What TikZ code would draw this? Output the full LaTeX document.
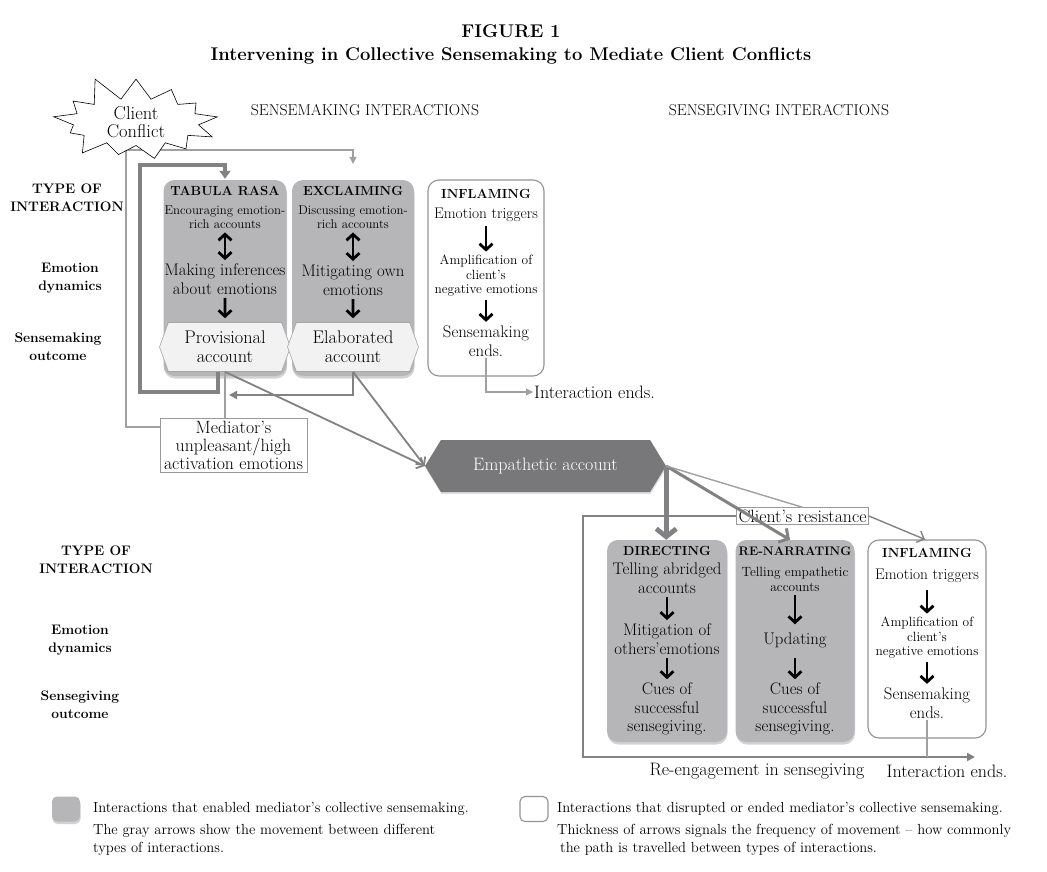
\documentclass[tikz,border=0pt]{standalone}
\usepackage{amsmath,amssymb}
\usepackage{tikz}
\usetikzlibrary{shapes,arrows.meta,positioning,calc,shadows}
\usepackage{xcolor}

\definecolor{boxgray}{RGB}{182,182,184}
\definecolor{hexfill}{RGB}{241,242,241}
\definecolor{empgray}{RGB}{120,120,123}
\definecolor{linegray}{RGB}{130,130,132}
\definecolor{lightline}{RGB}{160,160,160}

\begin{document}
\begin{tikzpicture}[
    x=1pt, y=-1pt,
    every node/.style={inner sep=1pt},
    enabling/.style={rectangle, rounded corners=11pt, fill=boxgray, drop shadow={shadow xshift=0.5pt, shadow yshift=-2.5pt, opacity=0.35}},
    disrupting/.style={rectangle, rounded corners=11pt, fill=white, draw=gray!85, line width=1.1pt},
    outcome/.style={signal, signal to=east and west, signal pointer angle=140, fill=hexfill, draw=gray!70, line width=0.6pt, minimum width=131pt, minimum height=49pt, align=center, font=\fontsize{18.3}{19}\selectfont},
    empathy/.style={signal, signal to=east and west, signal pointer angle=117, fill=empgray, text=white, minimum width=241pt, minimum height=52pt, font=\fontsize{18}{19}\selectfont, drop shadow={shadow xshift=0.5pt, shadow yshift=-2pt, opacity=0.25}},
    notebox/.style={rectangle, draw=gray!80, fill=white, line width=0.8pt, align=center, inner sep=2pt, font=\fontsize{17.8}{18}\selectfont},
    burst/.style={starburst, starburst points=13, starburst point height=26pt, random starburst=11, draw=black, fill=white, line width=0.6pt, minimum width=178pt, minimum height=74pt, align=center, font=\fontsize{18.5}{18}\selectfont},
    rowlabel/.style={align=center, font=\bfseries\fontsize{13.8}{18}\selectfont},
    heading/.style={font=\fontsize{15.7}{17}\selectfont},
    boxtitle/.style={font=\bfseries\fontsize{13.2}{15}\selectfont},
    txt/.style={align=center, font=\fontsize{16.8}{18.5}\selectfont},
    trig/.style={align=center, font=\fontsize{15.4}{17}\selectfont},
    smalltxt/.style={align=center, font=\fontsize{13.4}{14.5}\selectfont},
    endtxt/.style={font=\fontsize{18}{19}\selectfont},
    legendtxt/.style={align=left, font=\fontsize{14.6}{18}\selectfont},
    inarrow/.style={line width=2.8pt, shorten <=2.5pt, shorten >=2.5pt, -{Straight Barb[length=6pt,width=13pt]}},
    twoway/.style={line width=2.8pt, shorten <=2.5pt, shorten >=2.5pt, {Straight Barb[length=6pt,width=13pt]}-{Straight Barb[length=6pt,width=13pt]}},
    faint/.style={draw=lightline, line width=1.1pt},
    faintarrow/.style={faint, -{Triangle[length=7pt,width=7pt]}},
    path1/.style={draw=linegray, line width=1.8pt, -{Straight Barb[length=6pt,width=12pt]}},
    path3/.style={draw=linegray, line width=3pt, -{Straight Barb[length=7pt,width=16pt]}},
    path5/.style={draw=linegray, line width=4.8pt, -{Straight Barb[length=8pt,width=20pt]}},
    loopline/.style={draw=linegray, line width=4.5pt, -{Triangle[length=8pt,width=11pt]}}
]
\fill[white] (0,0) rectangle (1047,871);
\useasboundingbox (0,0) rectangle (1047,871);

\node[font=\bfseries\fontsize{18.4}{23}\selectfont, align=center] (fig) at (511,44) {FIGURE 1\\Intervening in Collective Sensemaking to Mediate Client Conflicts};

\node[heading] (smhead) at (365,110) {SENSEMAKING INTERACTIONS};
\node[heading] (sghead) at (779,110) {SENSEGIVING INTERACTIONS};

\node[rowlabel] (type1) at (67,198) {TYPE OF\\INTERACTION};
\node[rowlabel] (emo1) at (70,278) {Emotion\\dynamics};
\node[rowlabel] (out1) at (58,347) {Sensemaking\\outcome};
\node[rowlabel] (type2) at (96,560) {TYPE OF\\INTERACTION};
\node[rowlabel] (emo2) at (80,640) {Emotion\\dynamics};
\node[rowlabel] (out2) at (80,705) {Sensegiving\\outcome};

\node[enabling, minimum width=123pt, minimum height=196pt] (tabula) at (225,278) {};
\node[enabling, minimum width=122pt, minimum height=196pt] (excl) at (353,278) {};
\node[disrupting, minimum width=116pt, minimum height=196pt] (infl) at (486,278) {};

\node[boxtitle] (tabt) at (225,191) {TABULA RASA};
\node[smalltxt, font=\fontsize{12.8}{14.5}\selectfont] (tab1) at (225,217) {Encouraging emotion-\\rich accounts};
\node[txt] (tab2) at (225,279) {Making inferences\\about emotions};
\node[outcome] (prov) at (225,347) {Provisional\\account};
\draw[twoway] (tab1) -- (tab2);
\draw[inarrow, shorten >=4pt] (tab2) -- (prov);

\node[boxtitle] (exct) at (353,191) {EXCLAIMING};
\node[smalltxt, font=\fontsize{12.8}{14.5}\selectfont] (exc1) at (353,217) {Discussing emotion-\\rich accounts};
\node[txt, font=\fontsize{16.8}{19}\selectfont] (exc2) at (353,280) {Mitigating own\\emotions};
\node[outcome] (elab) at (353,347) {Elaborated\\account};
\draw[twoway] (exc1) -- (exc2);
\draw[inarrow, shorten >=4pt] (exc2) -- (elab);

\node[boxtitle] (inft) at (486,194) {INFLAMING};
\node[trig] (inf1) at (486,215) {Emotion triggers};
\node[smalltxt] (inf2) at (486,276) {Amplification of\\client's\\negative emotions};
\node[txt, font=\fontsize{16.8}{19}\selectfont] (inf3) at (486,341) {Sensemaking\\ends.};
\draw[inarrow] (inf1) -- (inf2);
\draw[inarrow] (inf2) -- (inf3);

\node[endtxt, anchor=west] (iend1) at (533,392) {Interaction ends.};

\node[notebox, minimum width=147pt, minimum height=54pt] (mediator) at (233.5,445) {Mediator's\\unpleasant/high\\activation emotions};
\node[empathy] (emp) at (545.5,466) {Empathetic account};
\node[notebox] (resist) at (802.5,516) {Client's resistance};

\node[enabling, minimum width=120pt, minimum height=202pt] (direct) at (667,641) {};
\node[enabling, minimum width=119pt, minimum height=202pt] (renarr) at (795,641) {};
\node[disrupting, minimum width=118pt, minimum height=198pt] (inflb) at (927,639) {};

\node[boxtitle] (dirt) at (667,551) {DIRECTING};
\node[txt] (dir1) at (667,578) {Telling abridged\\accounts};
\node[txt] (dir2) at (667,639) {Mitigation of\\others'emotions};
\node[txt] (dir3) at (667,709) {Cues of\\successful\\sensegiving.};
\draw[inarrow] (dir1) -- (dir2);
\draw[inarrow] (dir2) -- (dir3);

\node[boxtitle, font=\bfseries\fontsize{12.4}{15}\selectfont] (rent) at (795,551) {RE-NARRATING};
\node[smalltxt] (ren1) at (795,579.5) {Telling empathetic\\accounts};
\node[txt] (ren2) at (795,640) {Updating};
\node[txt] (ren3) at (795,709) {Cues of\\successful\\sensegiving.};
\draw[inarrow, shorten >=7pt] (ren1) -- (ren2);
\draw[inarrow, shorten <=9pt] (ren2) -- (ren3);

\node[boxtitle] (inbt) at (927,553) {INFLAMING};
\node[trig] (inb1) at (927,576) {Emotion triggers};
\node[smalltxt] (inb2) at (927,638) {Amplification of\\client's\\negative emotions};
\node[txt, font=\fontsize{16.8}{19}\selectfont] (inb3) at (927,703) {Sensemaking\\ends.};
\draw[inarrow, shorten <=6pt] (inb1) -- (inb2);
\draw[inarrow] (inb2) -- (inb3);

\node[endtxt] (reeng) at (757,771) {Re-engagement in sensegiving};
\node[endtxt] (iend2) at (947,771) {Interaction ends.};
\coordinate (loopend) at (975,757);
\coordinate (medin) at (229,395);

\draw[faintarrow] ([yshift=18pt]mediator.west) -| (126,150) -| ([yshift=16pt]excl.north);
\draw[loopline] ([xshift=-7pt]prov.south) |- (140,392) |- ([yshift=15pt]tabula.north) -- ([yshift=1pt]tabula.north);
\draw[faint] (prov.south) -- (prov.south |- mediator.north);
\draw[draw=linegray, line width=1.8pt, -{Triangle[length=8pt,width=8pt]}] (elab.south) |- (medin);
\draw[path1] (prov.south) -- (emp.west);
\draw[path1] (elab.south) -- (emp.west);
\draw[faintarrow] (inf3.south) |- (iend1.west);

\draw[draw=linegray, line width=2.4pt, -{Triangle[length=8pt,width=8pt]}] (resist.west) -| (583,757) -- (loopend);
\draw[faint] (inb3.south) -- (inb3.south |- loopend);
\draw[path5] (emp.east) -- (emp.east |- direct.north);
\draw[path3] (emp.east) -- ([xshift=-5pt]renarr.north);
\draw[faint, line width=1.4pt] (emp.east) -- (resist.north);
\draw[path1, line width=1.4pt] (resist.east) -- ([xshift=-2pt]inflb.north);

\node[burst] (conflict) at (136,122) {Client\\Conflict};

\node[enabling, rounded corners=5pt, minimum width=28pt, minimum height=25pt] (keygray) at (66,809) {};
\node[legendtxt, anchor=west] (keygraytxt) at (92,809) {Interactions that enabled mediator's collective sensemaking.};
\node[legendtxt, anchor=north west] (keygraynote) at (92,823) {The gray arrows show the movement between different\\types of interactions.};
\node[disrupting, rounded corners=5pt, minimum width=28pt, minimum height=25pt] (keywhite) at (534,809) {};
\node[legendtxt, anchor=west] (keywhitetxt) at (556,809) {Interactions that disrupted or ended mediator's collective sensemaking.};
\node[legendtxt, anchor=north west] (keywhitenote) at (556,823) {Thickness of arrows signals the frequency of movement -- how commonly\\\hspace{3pt}the path is travelled between types of interactions.};
\end{tikzpicture}
\end{document}
